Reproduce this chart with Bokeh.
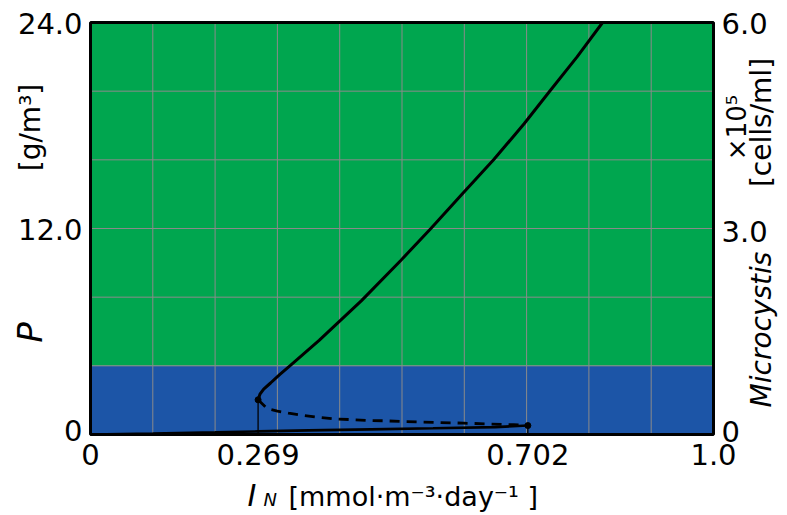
import math
from bokeh.plotting import figure
from bokeh.models import Range1d, Label
from bokeh.core.properties import value
from bokeh.embed import file_html
from bokeh.resources import INLINE

FONT = "DejaVu Sans"
W, H = 787, 515
# plot box inside the canvas, in pixels (left, right, top, bottom)
BOX_L, BOX_R, BOX_T, BOX_B = 90, 713, 22, 434

# Axis ticks and their labels
x_ticks = [0, 0.269, 0.702, 1.0]
x_tick_labels = ["0", "0.269", "0.702", "1.0"]
p_ticks = [0, 12, 24]
p_tick_labels = ["0", "12.0", "24.0"]
cell_ticks = [0, 3, 6]
cell_tick_labels = ["0", "3.0", "6.0"]
grid_x = [0.1, 0.2, 0.3, 0.4, 0.5, 0.6, 0.7, 0.8, 0.9]
grid_y = [4, 8, 12, 16, 20]

# Background regimes of P [g/m3]
band_bottom = [0, 4]
band_top = [4, 24]
band_color = ["#1c55a7", "#00a64f"]

# Saddle-node points (I_N values)
fold_x, fold_y = 0.269, 2.02
end_x, end_y = 0.702, 0.52

# Upper stable branch
upper_x = [0.269, 0.272, 0.278, 0.289, 0.304, 0.320, 0.367, 0.435, 0.498,
           0.546, 0.597, 0.647, 0.696, 0.738, 0.781, 0.822]
upper_y = [2.02, 2.35, 2.65, 3.00, 3.50, 4.00, 5.48, 7.80, 10.14,
           11.98, 14.02, 16.0, 18.1, 20.04, 22.0, 24.0]

# Unstable branch (dashed)
mid_x = [0.269, 0.284, 0.300, 0.318, 0.342, 0.364, 0.391, 0.417, 0.444,
         0.471, 0.498, 0.599, 0.679, 0.702]
mid_y = [2.02, 1.50, 1.36, 1.24, 1.11, 1.01, 0.91, 0.87, 0.82,
         0.80, 0.76, 0.66, 0.57, 0.52]

# Lower stable branch
lower_x = [0, 0.1, 0.2, 0.269, 0.35, 0.45, 0.55, 0.65, 0.702]
lower_y = [0, 0.06, 0.13, 0.18, 0.24, 0.30, 0.36, 0.43, 0.52]

X_MIN, X_MAX = 0.0, 1.0
P_MAX, CELL_MAX = 24.0, 6.0

# ranges chosen so that the data box lands on BOX_* inside the full canvas
x_per_px = (X_MAX - X_MIN) / (BOX_R - BOX_L)
y_per_px = P_MAX / (BOX_B - BOX_T)
x_range = Range1d(X_MIN - BOX_L * x_per_px, X_MAX + (W - BOX_R) * x_per_px)
y_range = Range1d(-(H - BOX_B) * y_per_px, P_MAX + BOX_T * y_per_px)
ratio = CELL_MAX / P_MAX

p = figure(width=W, height=H, x_range=x_range, y_range=y_range,
           x_axis_type=None, y_axis_type=None,
           output_backend="svg", toolbar_location=None,
           min_border=0, min_border_left=0, min_border_right=0,
           min_border_top=0, min_border_bottom=0)
p.title.visible = False
p.extra_y_ranges = {"cells": Range1d(y_range.start * ratio, y_range.end * ratio)}
p.background_fill_color = "white"
p.border_fill_color = "white"
p.outline_line_color = None

# colour bands
p.quad(left=X_MIN, right=X_MAX, bottom=band_bottom, top=band_top,
       fill_color=band_color, line_color=None)

# grid
p.segment(x0=grid_x, y0=0, x1=grid_x, y1=P_MAX, line_color="#8a8a8a", line_width=1)
p.segment(x0=X_MIN, y0=grid_y, x1=X_MAX, y1=grid_y, line_color="#8a8a8a", line_width=1)

# branches
p.line(upper_x, upper_y, line_color="black", line_width=3)
p.line(mid_x, mid_y, line_color="black", line_width=2.8, line_dash="10 7")
p.line(lower_x, lower_y, line_color="black", line_width=2.6)
p.segment(x0=[fold_x, end_x], y0=[0, 0], x1=[fold_x, end_x], y1=[fold_y, end_y],
          line_color="black", line_width=1.3)
p.scatter([fold_x, end_x], [fold_y, end_y], size=6, color="black")

# frame
p.quad(left=X_MIN, right=X_MAX, bottom=0, top=P_MAX, fill_color=None,
       line_color="black", line_width=3)

# tick labels
tick_style = dict(text_font=value(FONT), text_font_size="29px", text_color="black")
p.text(x=x_ticks, y=0, text=x_tick_labels, text_align="center",
       text_baseline="middle", y_offset=20, **tick_style)
p.text(x=X_MIN, y=p_ticks, text=p_tick_labels, text_align="right",
       text_baseline="middle", x_offset=-8, y_offset=[-4, 1, 1], **tick_style)
p.text(x=X_MAX, y=cell_ticks, text=cell_tick_labels, text_align="left",
       text_baseline="middle", x_offset=8, y_offset=[-3, 3, 1],
       y_range_name="cells", **tick_style)


def label(cx, cy, text, size, style="normal", angle=0.0, align="center"):
    # cx, cy measured from the canvas top-left corner; cy is the text's middle
    p.add_layout(Label(x=cx, y=H - cy, x_units="screen", y_units="screen", text=text,
                       text_font=FONT, text_font_size=size, text_font_style=style,
                       text_color="black", angle=angle, text_align=align,
                       text_baseline="middle"))


up = math.pi / 2
# left axis title
label(30, 127, "[g/m³]", "28px", angle=up)
label(29, 332, "P", "34px", style="italic", angle=up)
# right axis title
label(736, 127, "×10⁵", "26px", angle=up)
label(761, 122, "[cells/ml]", "28px", angle=up)
label(761, 329, "Microcystis", "28px", style="italic", angle=up)
# bottom axis title
label(247, 495, "I", "30px", style="italic", align="left")
label(263, 499, "N", "18px", style="italic", align="left")
label(288, 496, "[mmol·m⁻³·day⁻¹ ]", "27px", align="left")

open("out.html", "w").write(file_html(p, INLINE))
